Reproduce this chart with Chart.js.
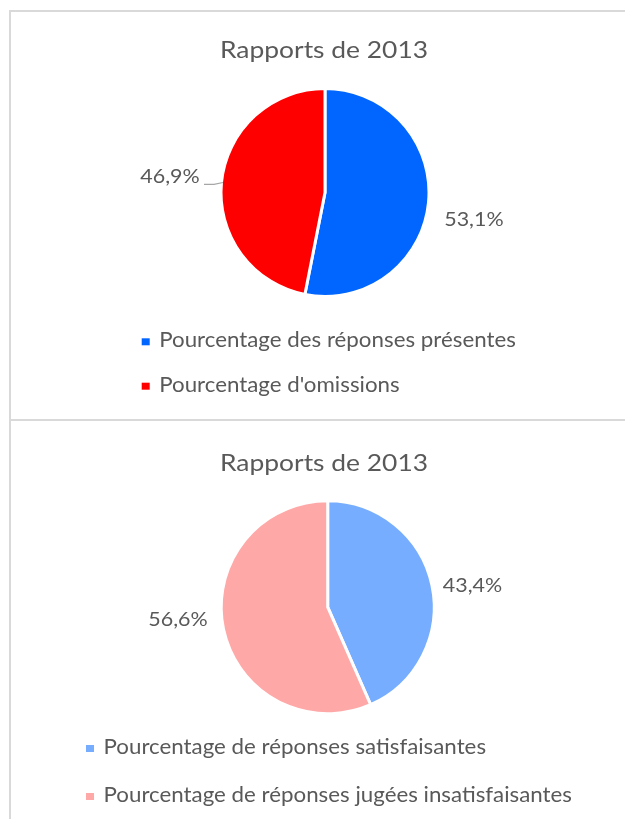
<!DOCTYPE html>
<html lang="fr">
<head>
<meta charset="utf-8">
<title>Rapports de 2013</title>
<script src="https://cdn.jsdelivr.net/npm/chart.js@4.4.1/dist/chart.umd.min.js"></script>
<style>
  html, body { margin: 0; padding: 0; background: #fff; }
  body { position: relative; width: 625px; height: 819px; overflow: hidden; }
  .rule { position: absolute; background: #d9d9d9; }
  canvas { position: absolute; left: 0; }
</style>
</head>
<body>
<div class="rule" style="left:9px; top:10px; width:616px; height:2px;"></div>
<div class="rule" style="left:9px; top:10px; width:2px; height:809px;"></div>
<div class="rule" style="left:9px; top:419px; width:616px; height:2px;"></div>
<canvas id="pieOmissions" width="625" height="419" style="top:0"></canvas>
<canvas id="pieQualite" width="625" height="399" style="top:420px"></canvas>

<script>
// Chart data
const chartTitle = "Rapports de 2013";

const omissionLabels = ["Pourcentage des réponses présentes", "Pourcentage d'omissions"];
const omissionValues = [53.1, 46.9];
const omissionColors = ["#0066ff", "#ff0000"];

const qualiteLabels = ["Pourcentage de réponses satisfaisantes", "Pourcentage de réponses jugées insatisfaisantes"];
const qualiteValues = [43.4, 56.6];
const qualiteColors = ["#76adff", "#ffa8a8"];

const TEXT_COLOR = "#595959";
const FONT = "Lato, 'Open Sans', sans-serif";
const STRETCH = 1.1; // text is a bit wider than Lato

const fmtPct = v => v.toFixed(1).replace(".", ",") + "%";

// draw text with a small horizontal stretch
function drawText(ctx, text, x, y, size, align) {
  ctx.save();
  ctx.translate(x, y);
  ctx.scale(STRETCH, 1);
  ctx.font = `${size}px ${FONT}`;
  ctx.textAlign = align;
  ctx.textBaseline = "alphabetic";
  ctx.fillText(text, 0, 0);
  ctx.restore();
}

// title, value labels, leader line and legend drawn on the canvas
const panelText = {
  id: "panelText",
  afterDraw(chart, args, opts) {
    const ctx = chart.ctx;
    const ds = chart.data.datasets[0];
    const arcs = chart.getDatasetMeta(0).data;
    ctx.save();
    ctx.fillStyle = TEXT_COLOR;
    drawText(ctx, opts.title, opts.titleX, opts.titleY, 24, "center");

    arcs.forEach((arc, i) => {
      const [dx, dy] = opts.valueOffsets[i];
      drawText(ctx, fmtPct(ds.data[i]), arc.x + dx, arc.y + dy, 19.5, "center");
    });

    if (opts.leader) {
      const arc = arcs[opts.leader.index];
      const { x, y, startAngle, endAngle, outerRadius } = arc.getProps(
        ["x", "y", "startAngle", "endAngle", "outerRadius"], true);
      const mid = (startAngle + endAngle) / 2;
      const r = outerRadius - 1.5;
      ctx.strokeStyle = "#a6a6a6";
      ctx.lineWidth = 1.2;
      ctx.beginPath();
      ctx.moveTo(x + opts.leader.from[0], y + opts.leader.from[1]);
      ctx.lineTo(x + opts.leader.knee[0], y + opts.leader.knee[1]);
      ctx.lineTo(x + Math.cos(mid) * r, y + Math.sin(mid) * r);
      ctx.stroke();
    }

    const lg = opts.legend;
    chart.data.labels.forEach((label, i) => {
      const by = lg.y + i * lg.gap;
      ctx.fillStyle = ds.backgroundColor[i];
      ctx.fillRect(lg.x, by - 9, 8, 7);
      ctx.fillStyle = TEXT_COLOR;
      drawText(ctx, label, lg.x + 17.5, by, 20.3, "left");
    });
    ctx.restore();
  },
};

function renderPie(id, labels, data, colors, radius, padding, textOpts) {
  const el = document.getElementById(id);
  return new Chart(el, {
    type: "pie",
    data: {
      labels,
      datasets: [{
        data,
        backgroundColor: colors,
        borderColor: "#ffffff",
        borderWidth: 3,
      }],
    },
    options: {
      responsive: false,
      animation: false,
      radius,
      layout: { padding },
      plugins: {
        legend: { display: false },
        title: { display: false },
        tooltip: { enabled: false },
        panelText: textOpts,
      },
    },
    plugins: [panelText],
  });
}

function drawAll() {
  renderPie("pieOmissions", omissionLabels, omissionValues, omissionColors, 104,
    { left: 215, right: 190, top: 82.5, bottom: 116.5 },
    {
      title: chartTitle, titleX: 324, titleY: 57.7,
      valueOffsets: [[148.9, 33.2], [-155, -9.2]],
      leader: { index: 1, from: [-121, -8.2], knee: [-111, -8.2] },
      legend: { x: 141.7, y: 347.3, gap: 44.4 },
    });

  renderPie("pieQualite", qualiteLabels, qualiteValues, qualiteColors, 106.5,
    { left: 207.7, right: 177.3, top: 67.2, bottom: 91.8 },
    {
      title: chartTitle, titleX: 324, titleY: 51,
      valueOffsets: [[144.8, -15.5], [-149.7, 18.8]],
      legend: { x: 86, y: 334, gap: 48 },
    });
}

if (document.fonts && document.fonts.load) {
  document.fonts.load("20px Lato").then(drawAll, drawAll);
} else {
  drawAll();
}
</script>
</body>
</html>
